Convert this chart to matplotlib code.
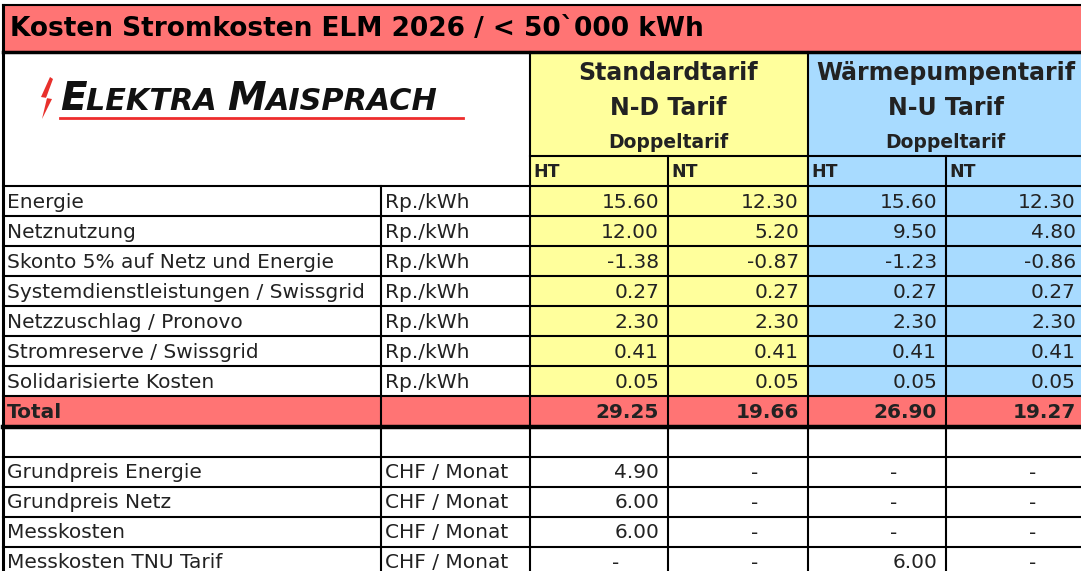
import matplotlib.pyplot as plt
from matplotlib.patches import Rectangle, Polygon

# table content
title = "Kosten Stromkosten ELM 2026 / < 50`000 kWh"
tariffs = ["Standardtarif", "Wärmepumpentarif"]
tariff_codes = ["N-D Tarif", "N-U Tarif"]
tariff_type = "Doppeltarif"
sub_cols = ["HT", "NT", "HT", "NT"]

labels = ["Energie", "Netznutzung", "Skonto 5% auf Netz und Energie",
          "Systemdienstleistungen / Swissgrid", "Netzzuschlag / Pronovo",
          "Stromreserve / Swissgrid", "Solidarisierte Kosten"]
unit_kwh = "Rp./kWh"
nd_ht = [15.60, 12.00, -1.38, 0.27, 2.30, 0.41, 0.05]
nd_nt = [12.30, 5.20, -0.87, 0.27, 2.30, 0.41, 0.05]
nu_ht = [15.60, 9.50, -1.23, 0.27, 2.30, 0.41, 0.05]
nu_nt = [12.30, 4.80, -0.86, 0.27, 2.30, 0.41, 0.05]
totals = [29.25, 19.66, 26.90, 19.27]

fix_labels = ["Grundpreis Energie", "Grundpreis Netz", "Messkosten", "Messkosten TNU Tarif"]
unit_month = "CHF / Monat"
fix_nd_ht = [4.90, 6.00, 6.00, None]
fix_nd_nt = [None, None, None, None]
fix_nu_ht = [None, None, None, 6.00]
fix_nu_nt = [None, None, None, None]

RED = "#ff7474"
YEL = "#ffff9c"
BLUE = "#a8dbff"
TXT = "#222222"

fig = plt.figure(figsize=(10.81, 5.71), dpi=100)
ax = fig.add_axes([0, 0, 1, 1])
ax.set_xlim(0, 1081)
ax.set_ylim(571, 0)
ax.axis("off")

xs = [3, 381, 530, 668, 808, 946, 1085]
y_title = (5, 52)
y_head = 52
y_sub = 156
rh = 30
y0 = 186  # first data row


def fill(x0, x1, ya, yb, c):
    ax.add_patch(Rectangle((x0, ya), x1 - x0, yb - ya, facecolor=c, edgecolor="none", zorder=0))


n = len(labels)
y_total = y0 + n * rh
y_blank = y_total + rh + 1
y_fix = y_blank + rh
y_end = y_fix + len(fix_labels) * rh

# fills
fill(xs[0], 1090, y_title[0], y_title[1], RED)
fill(xs[2], xs[4], y_head, y_total, YEL)
fill(xs[4], 1090, y_head, y_total, BLUE)
fill(xs[0], 1090, y_total, y_total + rh + 1, RED)

# lines
lw = 1.5
k = dict(color="black", lw=lw, zorder=3, solid_capstyle="projecting")
ax.plot([xs[0], 1090], [y_title[0], y_title[0]], **k)
ax.plot([xs[0], 1090], [y_title[1], y_title[1]], lw=2.5, color="black", zorder=3)
ax.plot([xs[0], xs[0]], [y_title[0], y_end], lw=2.2, color="black", zorder=3)
ax.plot([xs[2], 1090], [y_sub, y_sub], **k)
ax.plot([xs[1], xs[1]], [y0, y_end], **k)
for xv in (xs[2], xs[4]):
    ax.plot([xv, xv], [y_head, y_end], **k)
for xv in (xs[3], xs[5]):
    ax.plot([xv, xv], [y_sub, y_end], **k)
row_lines = [y0 + i * rh for i in range(n + 1)] + [y_blank] + [y_fix + i * rh for i in range(len(fix_labels))]
for yv in row_lines:
    ax.plot([xs[0], 1090], [yv, yv], **k)
ax.plot([xs[0], 1090], [y_total + rh + 1, y_total + rh + 1], color="black", lw=3.2, zorder=3)

# title
ax.text(10, sum(y_title) / 2 + 1, title, fontsize=19, fontweight="bold", color="black",
        va="center", ha="left")

# logo
ax.add_patch(Polygon([(50, 77), (41, 97), (47, 98), (42, 119), (52, 99), (46, 98), (53, 79)],
                     closed=True, facecolor="#e8302c", edgecolor="none", zorder=2))
ax.plot([60, 463], [118, 118], color="#ee2d2d", lw=2, zorder=2)
fig.canvas.draw()
rend = fig.canvas.get_renderer()
xpos = 60
for part, big in [("E", True), ("LEKTRA ", False), ("M", True), ("AISPRACH", False)]:
    t = ax.text(xpos, 110, part, fontsize=28 if big else 21.8, fontweight="bold", style="italic",
                color="#111111", va="baseline", ha="left")
    xpos += t.get_window_extent(rend).width

# tariff headers
for i in range(2):
    cx = (xs[2 + 2 * i] + xs[4 + 2 * i]) / 2 - 1
    ax.text(cx, 73, tariffs[i], fontsize=17, fontweight="bold", color=TXT, ha="center", va="center")
    ax.text(cx, 108, tariff_codes[i], fontsize=17, fontweight="bold", color=TXT, ha="center", va="center")
    ax.text(cx, 142, tariff_type, fontsize=13.5, fontweight="bold", color=TXT, ha="center", va="center")
for j, s in enumerate(sub_cols):
    ax.text(xs[2 + j] + 3, y_sub + rh / 2 + 1, s, fontsize=12.5, fontweight="bold", color=TXT,
            ha="left", va="center")

fs = 14.5
cols = [nd_ht, nd_nt, nu_ht, nu_nt]
for i, lab in enumerate(labels):
    yc = y0 + i * rh + rh / 2 + 1
    ax.text(7, yc, lab, fontsize=fs, color=TXT, ha="left", va="center")
    ax.text(xs[1] + 4, yc, unit_kwh, fontsize=fs, color=TXT, ha="left", va="center")
    for j, c in enumerate(cols):
        ax.text(xs[3 + j] - 9, yc, f"{c[i]:.2f}", fontsize=fs, color=TXT, ha="right", va="center")

yc = y_total + rh / 2 + 1
ax.text(7, yc, "Total", fontsize=fs, fontweight="bold", color=TXT, ha="left", va="center")
for j, v in enumerate(totals):
    ax.text(xs[3 + j] - 9, yc, f"{v:.2f}", fontsize=fs, fontweight="bold", color=TXT,
            ha="right", va="center")

fcols = [fix_nd_ht, fix_nd_nt, fix_nu_ht, fix_nu_nt]
for i, lab in enumerate(fix_labels):
    yc = y_fix + i * rh + rh / 2 + 1
    ax.text(7, yc, lab, fontsize=fs, color=TXT, ha="left", va="center")
    ax.text(xs[1] + 4, yc, unit_month, fontsize=fs, color=TXT, ha="left", va="center")
    for j, c in enumerate(fcols):
        if c[i] is None:
            ax.text((xs[2 + j] + xs[3 + j]) / 2 + 17, yc, "-", fontsize=fs, color=TXT, ha="center", va="center")
        else:
            ax.text(xs[3 + j] - 9, yc, f"{c[i]:.2f}", fontsize=fs, color=TXT, ha="right", va="center")

fig.savefig("out.png", dpi=100)
